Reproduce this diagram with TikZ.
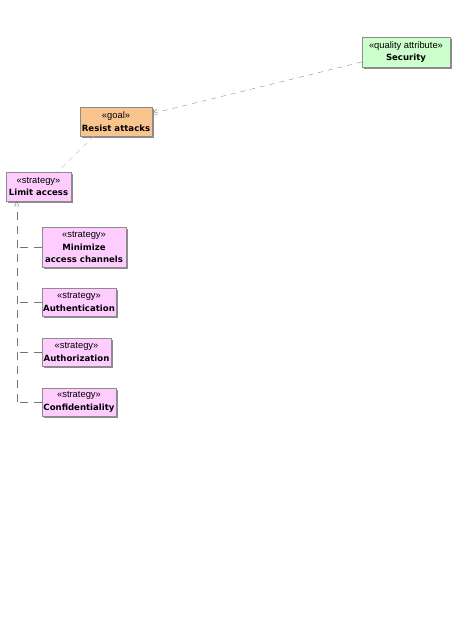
\documentclass[tikz,border=0pt]{standalone}
\usepackage{fontspec}
\setmainfont{DejaVu Sans}
\newfontfamily\stereofont{Liberation Sans}
\usepackage{tikz}
\usetikzlibrary{shadows,arrows.meta}

\definecolor{qagreen}{HTML}{CCFFCC}
\definecolor{goalorange}{HTML}{FAC48F}
\definecolor{stratpink}{HTML}{FFCCFF}

\tikzset{
    elem/.style={draw=black!45, inner sep=1bp, align=center,
        font=\fontsize{8.6}{12.5}\selectfont\bfseries,
        drop shadow={shadow xshift=1.6bp, shadow yshift=-1.6bp, fill=black!45, opacity=1}},
    qattr/.style={elem, fill=qagreen},
    goalbox/.style={elem, fill=goalorange},
    stratbox/.style={elem, fill=stratpink},
    link/.style={draw=black!45, dash pattern=on 5bp off 5bp},
    tree/.style={draw=black!55, dash pattern=on 8bp off 6bp}
}
\newcommand{\stereo}[1]{{\stereofont\mdseries\fontsize{9.4}{10}\selectfont «#1»}}

\begin{document}
\begin{tikzpicture}[x=1bp, y=-1bp]
                \useasboundingbox (0,0) rectangle (466,630);
                \node[qattr, minimum width=88bp, minimum height=30bp] (security) at (406,52) {\stereo{quality attribute}\\Security};
                \node[goalbox, minimum width=72bp, minimum height=29bp] (resist) at (116,121.5) {\stereo{goal}\\Resist attacks};
                \node[stratbox, minimum width=65bp, minimum height=29bp] (limit) at (38.5,186.5) {\stereo{strategy}\\Limit access};

                \node[stratbox, minimum width=84bp, minimum height=40bp] (minimize) at (84,247) {\stereo{strategy}\\[0.5bp]Minimize\\[-0.5bp]access channels};
                \node[stratbox, minimum width=74bp, minimum height=28bp] (authent) at (79,302) {\stereo{strategy}\\Authentication};
                \node[stratbox, minimum width=69bp, minimum height=28bp] (authoriz) at (76.5,352) {\stereo{strategy}\\Authorization};
                \node[stratbox, minimum width=74bp, minimum height=28bp] (confid) at (79,402) {\stereo{strategy}\\Confidentiality};

                \draw[link, -{Straight Barb[length=5bp, width=6bp]}] ([yshift=-10bp]security.west) -- ([yshift=8bp]resist.east);
                \draw[link, draw=black!25] ([xshift=-22bp]resist.south) -- ([xshift=19bp]limit.north);

                % decomposition of limit access
                \coordinate (trunk) at ([xshift=11bp]limit.south west);
                \draw[tree, -{Triangle[open, length=5bp, width=5bp]}] (trunk |- confid.west) -- (trunk);
                \foreach \s in {minimize, authent, authoriz, confid}
                    \draw[tree] (\s.west) -- (\s.west -| trunk);
            \end{tikzpicture}
\end{document}
